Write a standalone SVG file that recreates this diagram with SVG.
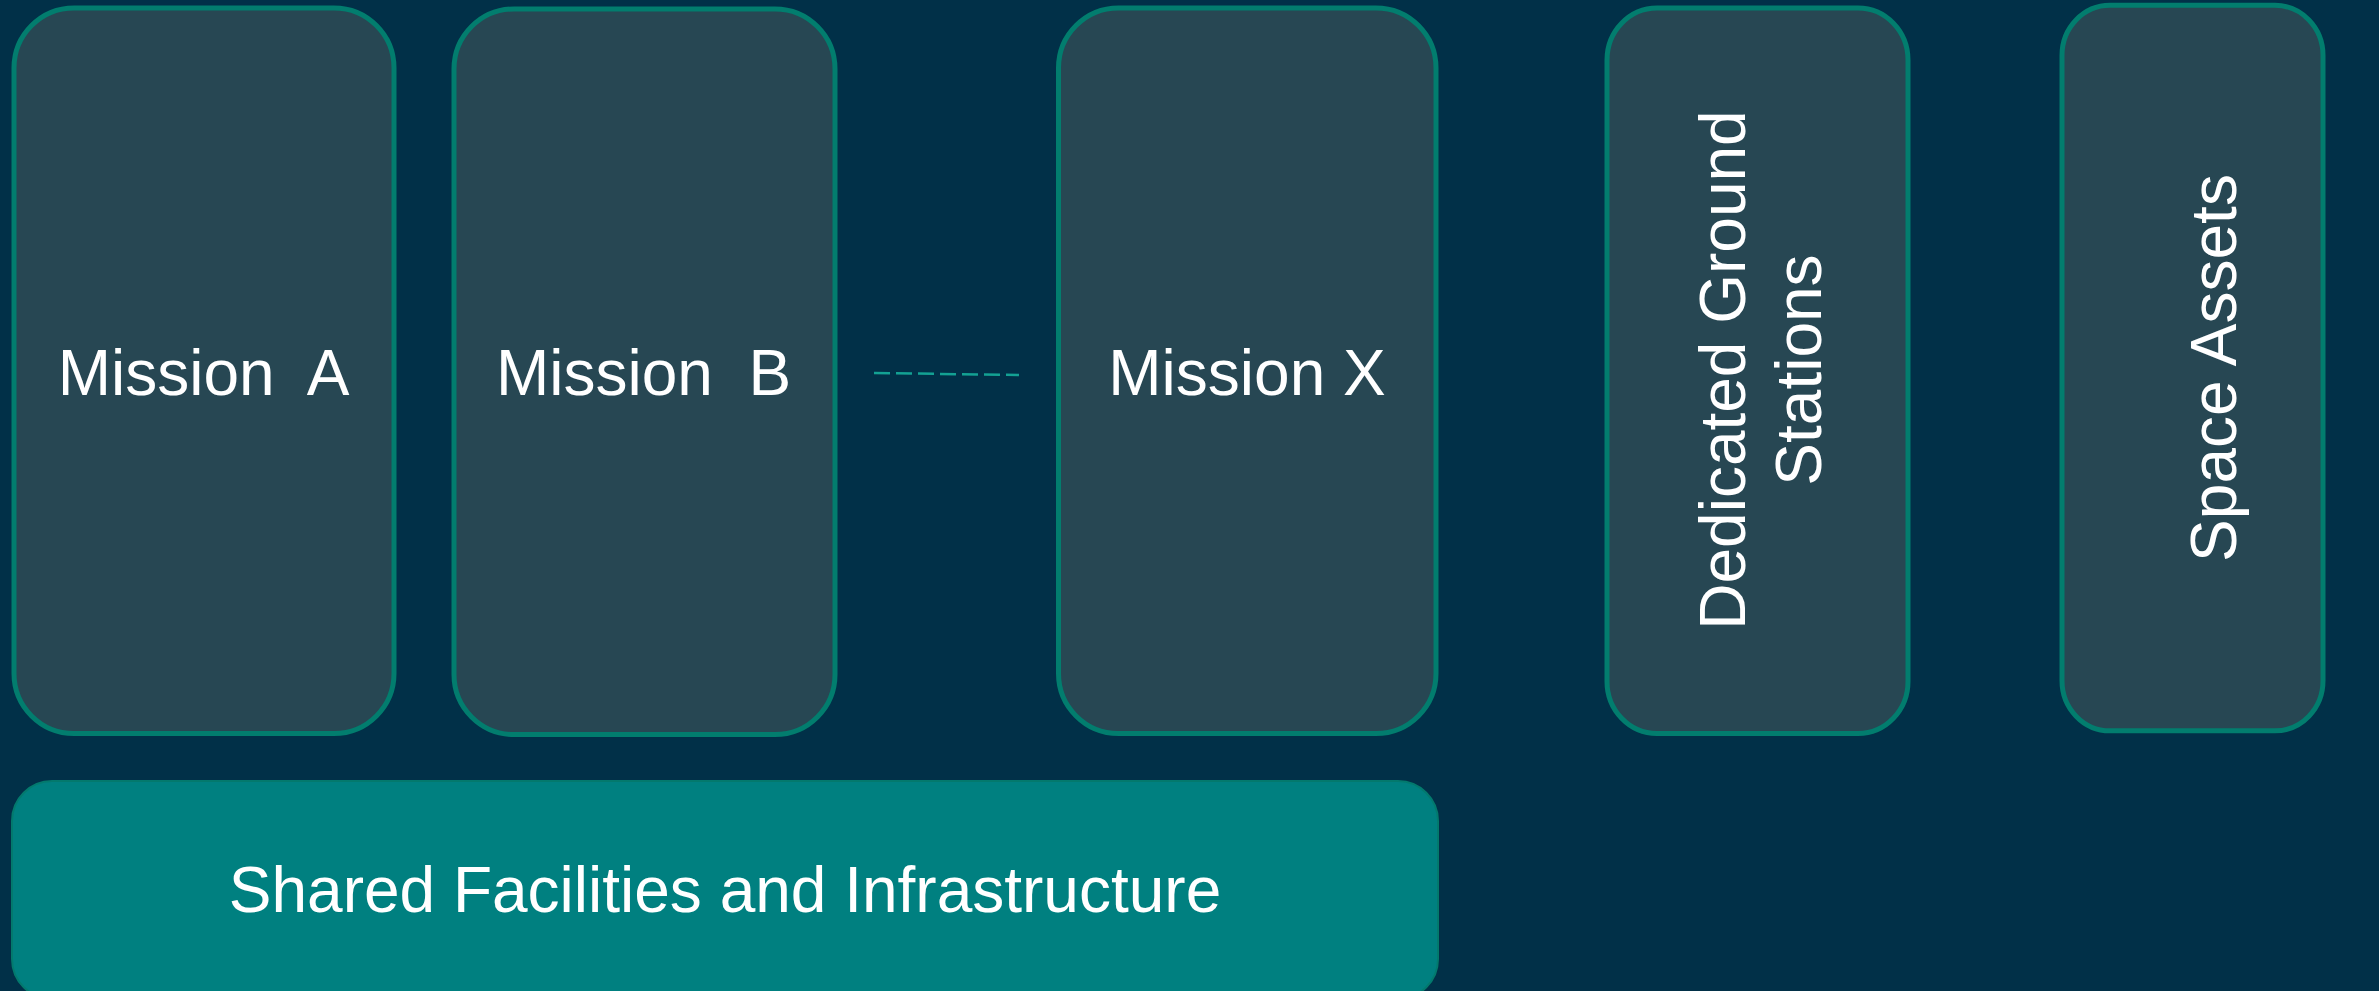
<svg xmlns="http://www.w3.org/2000/svg" width="2379" height="991" viewBox="0 0 2379 991">
<style>
.bg{fill:#013048}
.box{fill:#274753;stroke:#027d6e;stroke-width:5}
.shared{fill:#008080;stroke:#03796d;stroke-width:2}
.lbl{font-family:"Liberation Sans",Arial,sans-serif;fill:#ffffff;font-size:64px}
.dash{stroke:#13a193;stroke-width:2.5;stroke-dasharray:16 6;fill:none}
</style>
<rect class="bg" x="0" y="0" width="2379" height="991"/>
<g id="mission-a">
<rect class="box" x="14" y="8" width="380" height="725.5" rx="60" ry="60"/>
<text class="lbl" x="203.5" y="395" text-anchor="middle" xml:space="preserve">Mission  A</text>
</g>
<g id="mission-b">
<rect class="box" x="454" y="9" width="381" height="725.5" rx="60" ry="60"/>
<text class="lbl" x="643.5" y="395" text-anchor="middle" xml:space="preserve">Mission  B</text>
</g>
<g id="mission-x">
<rect class="box" x="1058.5" y="8" width="377.5" height="725.5" rx="60" ry="60"/>
<text class="lbl" x="1247" y="395" text-anchor="middle">Mission X</text>
</g>
<g id="dedicated-ground-stations">
<rect class="box" x="1607" y="8" width="301" height="725.5" rx="50" ry="52"/>
<text class="lbl" transform="translate(1745,370) rotate(-90)" text-anchor="middle">Dedicated Ground</text>
<text class="lbl" transform="translate(1821,370) rotate(-90)" text-anchor="middle">Stations</text>
</g>
<g id="space-assets">
<rect class="box" x="2062" y="5.3" width="261" height="725.5" rx="48" ry="50"/>
<text class="lbl" transform="translate(2236,368) rotate(-90)" text-anchor="middle">Space Assets</text>
</g>
<g id="shared-facilities">
<rect class="shared" x="12" y="781" width="1426" height="218" rx="40" ry="40"/>
<text class="lbl" x="725" y="912" text-anchor="middle">Shared Facilities and Infrastructure</text>
</g>
<g id="connectors">
<line class="dash" x1="874" y1="373" x2="1019" y2="375"/>
</g>
</svg>
